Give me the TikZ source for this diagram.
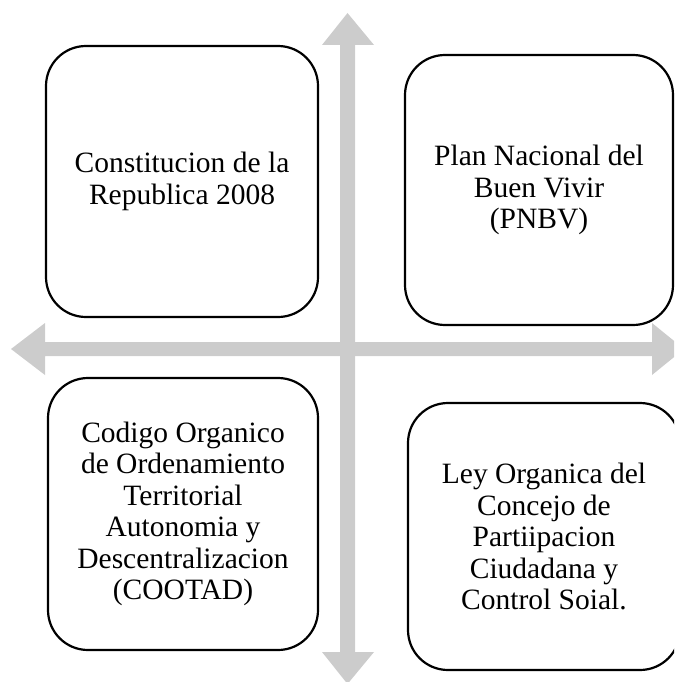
\documentclass[tikz,border=0pt]{standalone}
\usepackage{fontspec}
\setmainfont{Liberation Serif}
\definecolor{axisgray}{HTML}{CCCCCC}
\begin{document}
\begin{tikzpicture}[x=1pt,y=-1pt,
  box/.style={draw=black, line width=2.2pt, fill=white, rounded corners=40pt,
    inner sep=0pt, align=center, font=\fontsize{29.5}{31.5}\selectfont},
  axis/.style={fill=axisgray, draw=none}]
\useasboundingbox (0,0) rectangle (674,682);
\clip (0,0) rectangle (674,682);
% vertical double arrow
\fill[axis] (347.5,13) -- (374,45) -- (355,45) -- (355,652) -- (374,652) -- (347.5,684)
  -- (322,652) -- (340,652) -- (340,45) -- (322,45) -- cycle;
% horizontal double arrow
\fill[axis] (11,349) -- (45,323) -- (45,342) -- (652,342) -- (652,323) -- (684,349)
  -- (652,375) -- (652,356) -- (45,356) -- (45,375) -- cycle;
% boxes
\node[box, minimum width=272pt, minimum height=271pt] (cons) at (182,181.5)
  {Constitucion de la\\Republica 2008};
\node[box, minimum width=268pt, minimum height=270pt] (pnbv) at (539,190)
  {Plan Nacional del\\Buen Vivir\\(PNBV)};
\node[box, minimum width=270pt, minimum height=272pt] (cootad) at (183,514)
  {Codigo Organico\\de Ordenamiento\\Territorial\\Autonomia y\\Descentralizacion\\(COOTAD)};
\node[box, minimum width=272pt, minimum height=267pt] (ley) at (544,536.5)
  {Ley Organica del\\Concejo de\\Partiipacion\\Ciudadana y\\Control Soial.};
\end{tikzpicture}
\end{document}
